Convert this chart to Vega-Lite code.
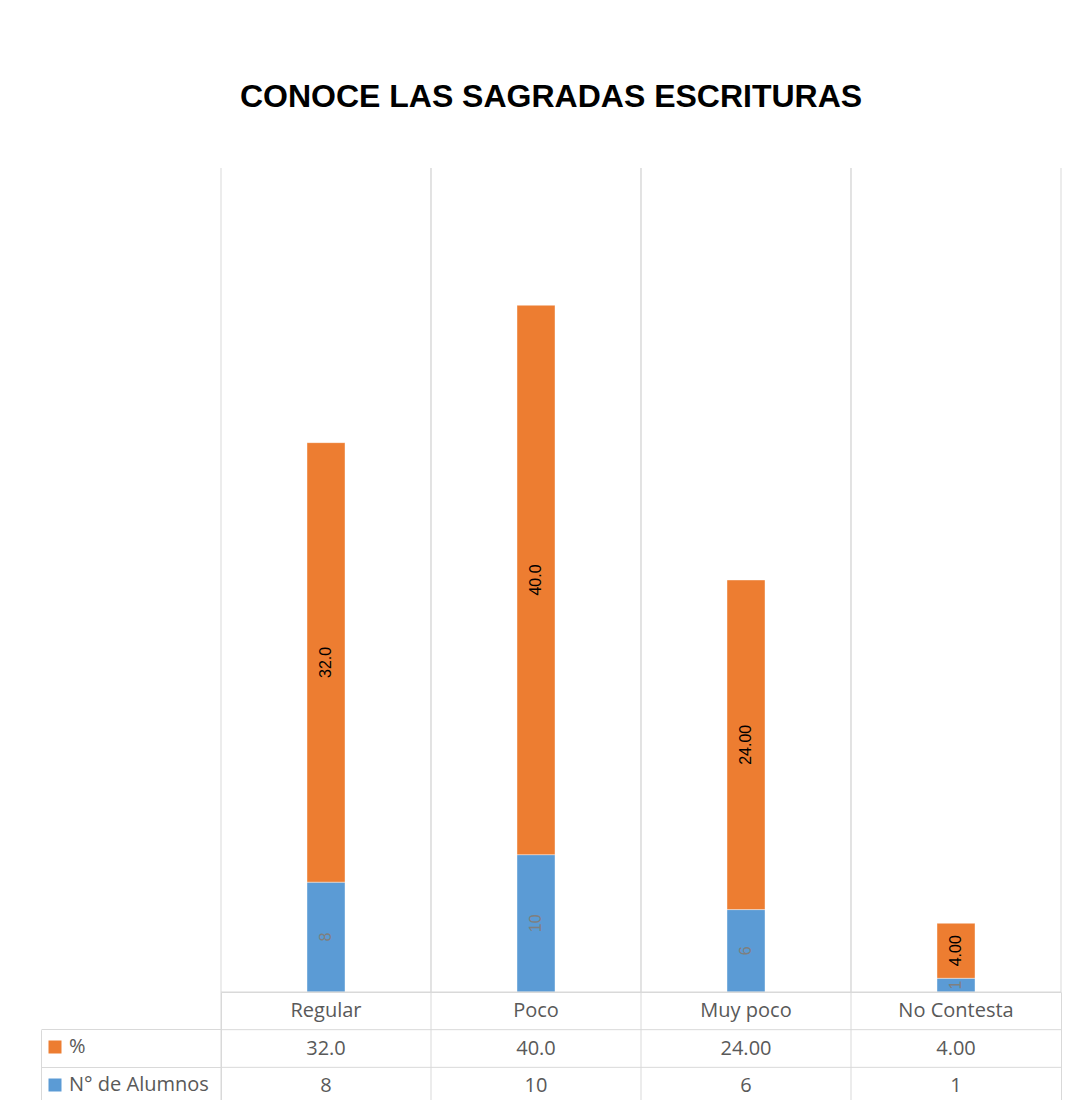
{
  "$schema": "https://vega.github.io/schema/vega-lite/v6.json",
  "background": "white",
  "padding": {"left": 40, "top": 80, "right": 0, "bottom": 0},
  "bounds": "flush",
  "spacing": 0,
  "title": {
    "text": "CONOCE LAS SAGRADAS ESCRITURAS",
    "font": "Liberation Sans",
    "fontSize": 32,
    "fontWeight": "bold",
    "color": "#000000",
    "anchor": "middle",
    "frame": "bounds",
    "offset": 54
  },
  "datasets": {
    "barras": [
      {"cat": "Regular", "serie": "N° de Alumnos", "valor": 8, "etiqueta": "8"},
      {"cat": "Regular", "serie": "%", "valor": 32, "etiqueta": "32.0"},
      {"cat": "Poco", "serie": "N° de Alumnos", "valor": 10, "etiqueta": "10"},
      {"cat": "Poco", "serie": "%", "valor": 40, "etiqueta": "40.0"},
      {"cat": "Muy poco", "serie": "N° de Alumnos", "valor": 6, "etiqueta": "6"},
      {"cat": "Muy poco", "serie": "%", "valor": 24, "etiqueta": "24.00"},
      {"cat": "No Contesta", "serie": "N° de Alumnos", "valor": 1, "etiqueta": "1"},
      {"cat": "No Contesta", "serie": "%", "valor": 4, "etiqueta": "4.00"}
    ],
    "categorias": [
      {"cat": "Regular"},
      {"cat": "Poco"},
      {"cat": "Muy poco"},
      {"cat": "No Contesta"}
    ],
    "filas": [
      {"fila": "cab"},
      {"fila": "%"},
      {"fila": "N° de Alumnos"}
    ]
  },
  "vconcat": [
    {
      "width": 840,
      "height": 824,
      "view": {"stroke": null},
      "layer": [
        {
          "data": {"name": "categorias"},
          "mark": {"type": "rule", "color": "#d9d9d9", "strokeWidth": 1},
          "encoding": {
            "x": {"field": "cat", "type": "nominal", "bandPosition": 0, "sort": null,
              "scale": {"domain": ["Regular", "Poco", "Muy poco", "No Contesta"], "paddingInner": 0, "paddingOuter": 0},
              "axis": null}
          }
        },
        {
          "data": {"name": "categorias"},
          "mark": {"type": "rule", "color": "#d9d9d9", "strokeWidth": 1},
          "encoding": {
            "x": {"field": "cat", "type": "nominal", "bandPosition": 1, "sort": null, "axis": null}
          }
        },
        {
          "data": {"name": "barras"},
          "mark": {"type": "bar", "size": 38, "stroke": "#ffffff", "strokeOpacity": 0.4, "strokeWidth": 1},
          "encoding": {
            "x": {"field": "cat", "type": "nominal", "sort": null, "axis": null},
            "y": {"field": "valor", "type": "quantitative", "stack": "zero",
              "scale": {"domain": [0, 60], "nice": false}, "axis": null},
            "color": {"field": "serie", "type": "nominal",
              "scale": {"domain": ["%", "N° de Alumnos"], "range": ["#ed7d31", "#5b9bd5"]},
              "legend": {"orient": "none", "legendX": -176, "legendY": 869, "title": null,
                "direction": "vertical", "symbolType": "square", "symbolSize": 169,
                "symbolStrokeWidth": 0, "labelFont": "Open Sans", "labelFontSize": 20,
                "labelColor": "#595959", "labelOffset": 4, "rowPadding": 18, "padding": 0}},
            "order": {"field": "serie", "sort": "descending"}
          }
        },
        {
          "data": {"name": "barras"},
          "mark": {"type": "text", "angle": 270, "font": "Liberation Sans", "fontSize": 16},
          "encoding": {
            "x": {"field": "cat", "type": "nominal", "sort": null, "axis": null},
            "y": {"field": "valor", "type": "quantitative", "stack": "zero", "bandPosition": 0.5, "axis": null},
            "text": {"field": "etiqueta"},
            "color": {"condition": {"test": "datum.serie === '%'", "value": "#000000"}, "value": "#7f7f7f"},
            "order": {"field": "serie", "sort": "descending"}
          }
        }
      ]
    },
    {
      "width": 840,
      "height": 113,
      "view": {"stroke": "#d9d9d9"},
      "layer": [
        {
          "data": {"name": "categorias"},
          "mark": {"type": "rule", "color": "#d9d9d9", "strokeWidth": 1},
          "encoding": {
            "x": {"field": "cat", "type": "nominal", "bandPosition": 0, "sort": null,
              "scale": {"domain": ["Regular", "Poco", "Muy poco", "No Contesta"], "paddingInner": 0, "paddingOuter": 0},
              "axis": null}
          }
        },
        {
          "data": {"name": "filas"},
          "mark": {"type": "rule", "color": "#d9d9d9", "strokeWidth": 1},
          "encoding": {
            "y": {"field": "fila", "type": "nominal", "bandPosition": 0, "sort": null,
              "scale": {"domain": ["cab", "%", "N° de Alumnos"], "paddingInner": 0, "paddingOuter": 0},
              "axis": {"title": null, "labels": false, "offset": 180, "domain": true,
                "domainColor": "#d9d9d9", "domainDash": [0, 37.7, 500],
                "ticks": true, "tickSize": -180, "tickColor": "#d9d9d9",
                "tickOpacity": {"condition": {"test": "datum.value === 'cab'", "value": 0}, "value": 1},
                "bandPosition": 0, "grid": false}}
          }
        },
        {
          "data": {"name": "barras"},
          "mark": {"type": "text", "font": "Open Sans", "fontSize": 20, "color": "#595959"},
          "encoding": {
            "x": {"field": "cat", "type": "nominal", "sort": null, "axis": null},
            "y": {"field": "serie", "type": "nominal", "sort": null},
            "text": {"field": "etiqueta"}
          }
        },
        {
          "data": {"name": "categorias"},
          "mark": {"type": "text", "font": "Open Sans", "fontSize": 20, "color": "#595959"},
          "encoding": {
            "x": {"field": "cat", "type": "nominal", "sort": null, "axis": null},
            "y": {"datum": "cab", "type": "nominal"},
            "text": {"field": "cat"}
          }
        }
      ]
    }
  ]
}
